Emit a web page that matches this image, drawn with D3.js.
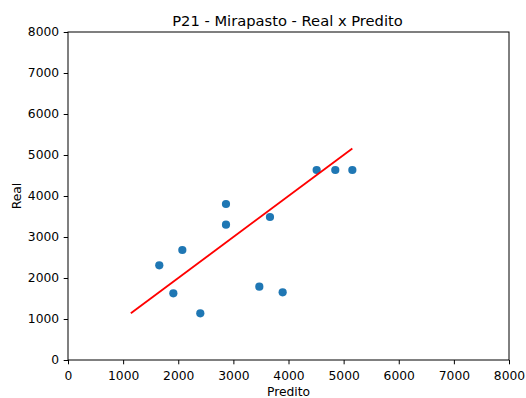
<!DOCTYPE html>
<html><head><meta charset="utf-8">
<script src="https://cdn.jsdelivr.net/npm/d3@7"></script>
<style>body{margin:0;background:#fff}svg{display:block}text{font-family:"DejaVu Sans",sans-serif;fill:#000}</style>
</head><body><svg id="c" width="526" height="398"></svg>
<script>
const predito = [1656, 1911, 2074, 2400, 2866, 2866, 3471, 3664, 3894, 4511, 4849, 5158];
const real    = [2310, 1627, 2683, 1139, 3805, 3300, 1788, 3488, 1651, 4634, 4634, 4634];
const lineX = [1140, 5158];
const lineY = [1140, 5158];
const ticks = [0, 1000, 2000, 3000, 4000, 5000, 6000, 7000, 8000];

const svg = d3.select("#c");
const L = 68, R = 509, T = 32, B = 360;
const x = d3.scaleLinear().domain([0, 8000]).range([L, R]);
const y = d3.scaleLinear().domain([0, 8000]).range([B, T]);

const xa = svg.append("g").attr("transform", `translate(0,${B})`)
  .call(d3.axisBottom(x).tickValues(ticks).tickSize(4.3).tickPadding(6.8).tickFormat(d3.format("d")));
const ya = svg.append("g").attr("transform", `translate(${L},0)`)
  .call(d3.axisLeft(y).tickValues(ticks).tickSize(4.3).tickPadding(4.6).tickFormat(d3.format("d")));
[xa, ya].forEach(a => {
  a.select(".domain").remove();
  a.selectAll("line").attr("stroke", "#000").attr("stroke-width", 1);
  a.selectAll("text").style("font-size", "12.3px").style("font-family", "DejaVu Sans");
});

svg.append("rect").attr("x", L).attr("y", T).attr("width", R - L).attr("height", B - T)
  .attr("fill", "none").attr("stroke", "#000").attr("stroke-width", 1);

svg.append("g").selectAll("circle").data(predito).join("circle")
  .attr("cx", d => x(d)).attr("cy", (d, i) => y(real[i])).attr("r", 4.1).attr("fill", "#1f77b4");

svg.append("path").datum(lineX.map((v, i) => [v, lineY[i]]))
  .attr("d", d3.line().x(d => x(d[0])).y(d => y(d[1])))
  .attr("stroke", "#ff0000").attr("stroke-width", 1.85).attr("fill", "none");

svg.append("text").attr("x", 287.5).attr("y", 25.7).attr("text-anchor", "middle")
  .style("font-size", "14.7px").text("P21 - Mirapasto - Real x Predito");
svg.append("text").attr("x", (L + R) / 2).attr("y", 396).attr("text-anchor", "middle")
  .style("font-size", "12.3px").text("Predito");
svg.append("text").attr("transform", `translate(20.8,${(T + B) / 2}) rotate(-90)`).attr("text-anchor", "middle")
  .style("font-size", "12.3px").text("Real");
</script></body></html>
